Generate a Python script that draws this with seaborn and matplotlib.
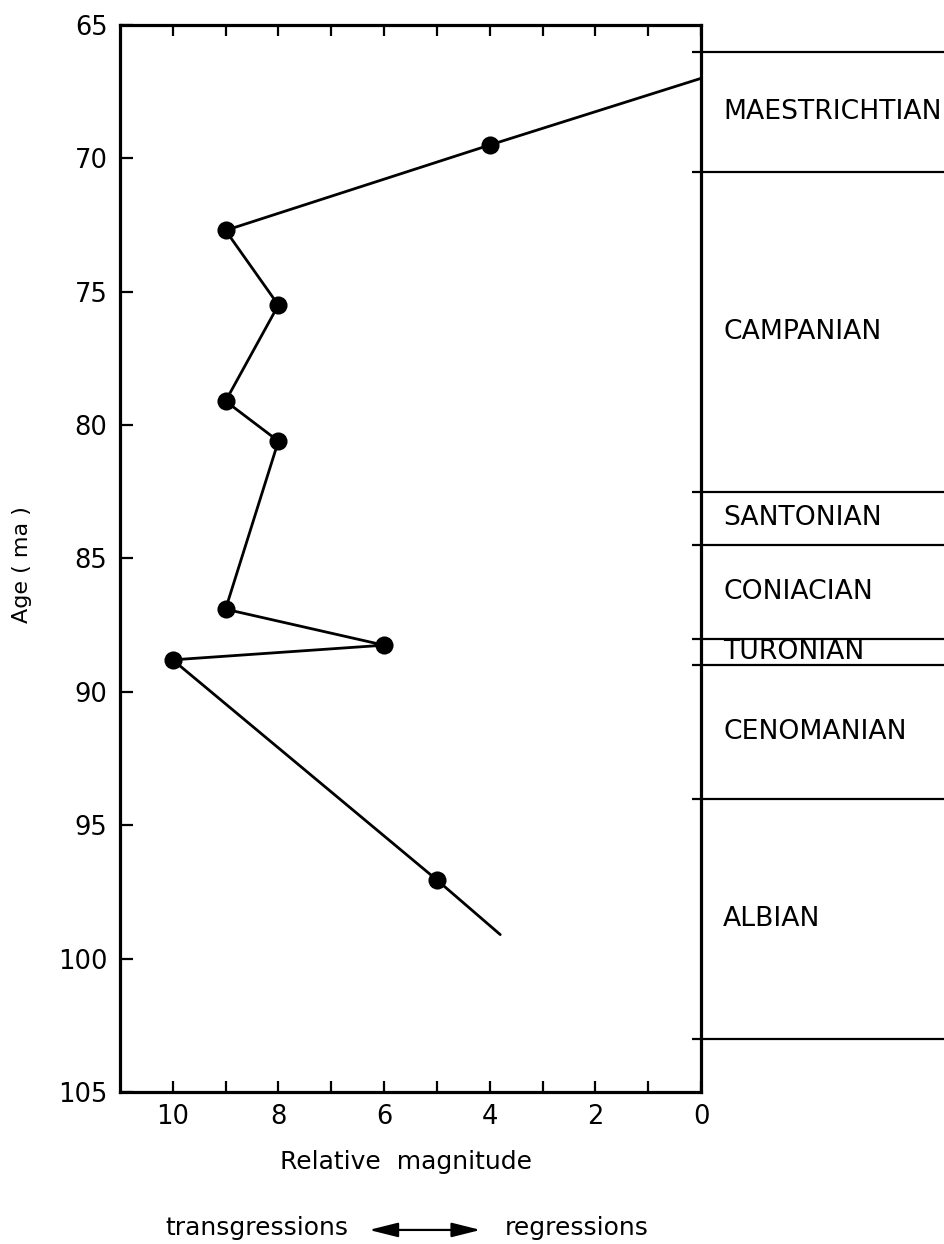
import matplotlib
matplotlib.use("Agg")
import matplotlib.pyplot as plt
import seaborn as sns
import pandas as pd

# ---- data ----
magnitude = [0.0, 4, 9, 8, 9, 8, 9, 6, 10, 5, 3.8]
age_ma = [67.0, 69.5, 72.7, 75.5, 79.1, 80.6, 86.9, 88.25, 88.8, 97.05, 99.1]
is_sample = [False, True, True, True, True, True, True, True, True, True, False]

stage_names = ["MAESTRICHTIAN", "CAMPANIAN", "SANTONIAN", "CONIACIAN",
               "TURONIAN", "CENOMANIAN", "ALBIAN"]
stage_bounds = [66.0, 70.5, 82.5, 84.5, 88.0, 89.0, 94.0, 103.0]

x_major = [10, 8, 6, 4, 2, 0]
x_minor = [9, 7, 5, 3, 1]
y_ticks = [65, 70, 75, 80, 85, 90, 95, 100, 105]

df = pd.DataFrame({"magnitude": magnitude, "age": age_ma, "sample": is_sample})

sns.set_style("white")
plt.rcParams["font.family"] = ["DejaVu Sans"]

fig = plt.figure(figsize=(9.44, 12.44), dpi=100)
ax = fig.add_axes([0.127, 0.1222, 0.7426 - 0.127, 0.9799 - 0.1222])

sns.lineplot(data=df, x="magnitude", y="age", sort=False, estimator=None,
             color="black", linewidth=2.0, ax=ax)
sns.scatterplot(data=df[df["sample"]], x="magnitude", y="age", color="black",
                s=170, edgecolor="black", linewidth=0, ax=ax, zorder=3)

ax.set_xlim(11, 0)
ax.set_ylim(105, 65)
ax.set_xticks(x_major)
ax.set_xticklabels([str(v) for v in x_major])
ax.set_xticks(x_minor, minor=True)
ax.set_yticks(y_ticks)
ax.set_yticklabels([str(v) for v in y_ticks])

ax.tick_params(axis="x", which="both", direction="in", length=8, width=1.6,
               top=True, bottom=True, labelsize=18.5, pad=9, colors="black")
ax.tick_params(axis="y", which="both", direction="in", length=9, width=1.6,
               left=True, right=False, labelsize=18.5, pad=9, colors="black")
for s in ax.spines.values():
    s.set_linewidth(2.3)
    s.set_color("black")
ax.set_xlabel("")
ax.set_ylabel("")

# stage boundaries and names (extend to the right of the axes)
ax.hlines(stage_bounds, xmin=0.17, xmax=-4.7, colors="black",
          linewidth=1.6, clip_on=False)
for name, top, bot in zip(stage_names, stage_bounds[:-1], stage_bounds[1:]):
    ax.text(-0.42, (top + bot) / 2, name, ha="left", va="center",
            fontsize=19.2, color="black", clip_on=False)

# axis labels and legend
fig.text(0.023, 0.546, "Age ( ma )", rotation=90, ha="center", va="center",
         fontsize=16, color="black")
fig.text(0.4306, 0.0659, "Relative  magnitude", ha="center", va="center",
         fontsize=18, color="black")
fig.text(0.3686, 0.0125, "transgressions", ha="right", va="center",
         fontsize=18, color="black")
fig.text(0.535, 0.0125, "regressions", ha="left", va="center",
         fontsize=18, color="black")
fig.add_artist(plt.matplotlib.patches.FancyArrowPatch(
    (0.388, 0.0113), (0.512, 0.0113), transform=fig.transFigure,
    arrowstyle="<|-|>,head_length=0.8,head_width=0.2", mutation_scale=22,
    color="black", linewidth=1.6))

fig.savefig("out.png", dpi=100)
